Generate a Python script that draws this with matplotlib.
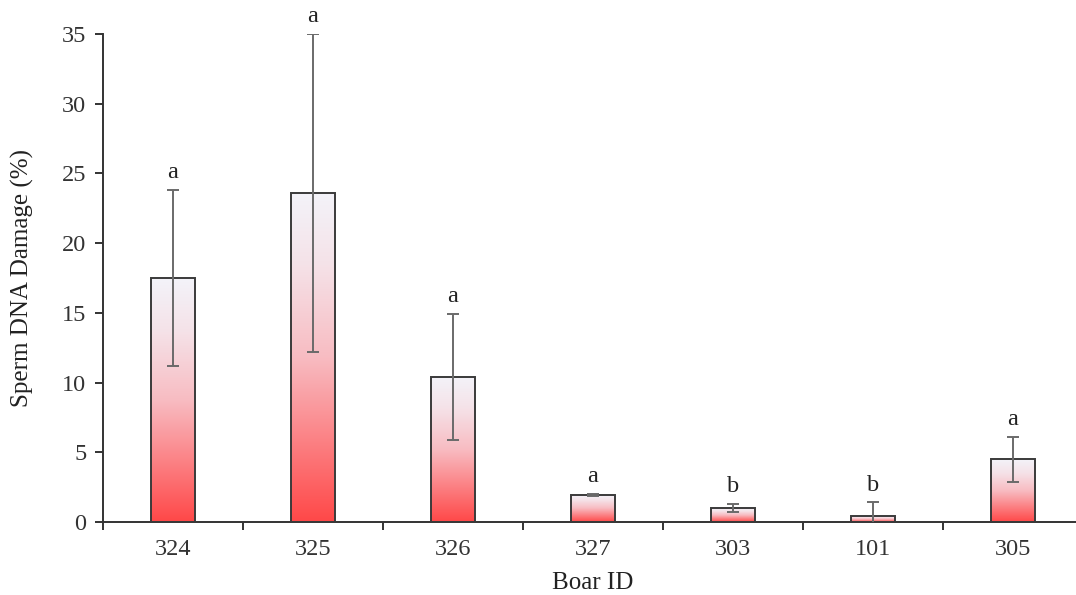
import numpy as np
import matplotlib.pyplot as plt
from matplotlib.colors import LinearSegmentedColormap

# data
boar_ids = ['324', '325', '326', '327', '303', '101', '305']
damage = [17.5, 23.6, 10.4, 1.95, 1.0, 0.4, 4.5]
damage_err = [6.3, 11.4, 4.5, 0.08, 0.3, 1.0, 1.6]
letters = ['a', 'a', 'a', 'a', 'b', 'b', 'a']

plt.rcParams['font.family'] = ['Liberation Serif', 'DejaVu Serif']
plt.rcParams['font.size'] = 17.5

fig = plt.figure(figsize=(10.76, 5.95), dpi=100)
ax = fig.add_axes([103 / 1076, 73 / 595, 980 / 1076, 488 / 595])

x = np.arange(len(boar_ids))
bar_w = 0.31

# white (top) -> red (bottom) gradient, drawn per bar
cmap = LinearSegmentedColormap.from_list(
    'wr', [(0.0, '#ff4848'), (0.5, '#f8bcc2'), (0.78, '#f5e2e8'), (1.0, '#f3f3f9')])
grad = np.linspace(0, 1, 256).reshape(-1, 1)

bars = ax.bar(x, damage, width=bar_w, facecolor='none',
              edgecolor='#3a3a3a', linewidth=1.4, zorder=3)
for b in bars:
    x0, y0 = b.get_x(), b.get_y()
    w, h = b.get_width(), b.get_height()
    im = ax.imshow(grad, cmap=cmap, origin='lower', aspect='auto',
                   extent=[x0, x0 + w, y0, y0 + h], zorder=2)
    im.set_clip_path(b)

ax.errorbar(x, damage, yerr=damage_err, fmt='none', ecolor='#6a6a6a',
            elinewidth=1.4, capsize=4, capthick=1.4, zorder=4)

for xi, v, e, lab in zip(x, damage, damage_err, letters):
    ax.annotate(lab, (xi, v + e), xytext=(0, 5), textcoords='offset points',
                ha='center', va='bottom', color='#222222')

ax.set_xlim(-0.5, 6.5)
ax.set_ylim(0, 35)
ax.set_yticks(np.arange(0, 36, 5))
ax.set_xticks(x)
ax.set_xticklabels(boar_ids)
ax.set_xticks(np.arange(-0.5, 7, 1), minor=True)
ax.tick_params(axis='x', which='major', length=0, pad=12, colors='#333333')
ax.tick_params(axis='x', which='minor', length=6, width=1.4, direction='out',
               color='#333333')
ax.tick_params(axis='y', length=6, width=1.4, direction='out', pad=6,
               colors='#333333')

for side in ['top', 'right']:
    ax.spines[side].set_visible(False)
for side in ['left', 'bottom']:
    ax.spines[side].set_linewidth(1.4)
    ax.spines[side].set_color('#333333')

ax.set_xlabel('Boar ID', color='#222222', labelpad=9, fontsize=18)
ax.set_ylabel('Sperm DNA Damage (%)', color='#222222', labelpad=20, fontsize=18)

fig.savefig('out.png', dpi=100)
